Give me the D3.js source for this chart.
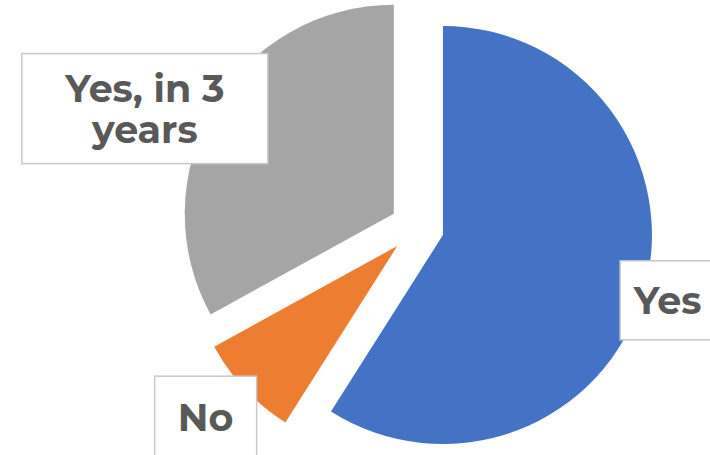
<!DOCTYPE html>
<html>
<head>
<meta charset="utf-8">
<script src="https://cdn.jsdelivr.net/npm/d3@7"></script>
<style>
  body { margin: 0; background: #fff; }
  svg { display: block; }
</style>
</head>
<body>
<div id="chart"></div>
<script>
// slice data
const categories = ["Yes", "No", "Yes, in 3 years"];
const values = [59, 8, 33];
const colors = ["#4472C4", "#ED7D31", "#A5A5A5"];
const labelLines = [["Yes"], ["No"], ["Yes, in 3", "years"]];

// chart size
const width = 710,
  height = 455;
const cx = 417,
  cy = 227.5,
  radius = 209,
  explode = 27;

// label placement (distance from centre, angle nudge in degrees, box size)
const labelLayout = [
  { dist: 261, nudge: 0, w: 95, h: 79 },
  { dist: 284, nudge: 1.3, w: 102, h: 82 },
  { dist: 297, nudge: -7, w: 246, h: 110 },
];

const fontSize = 38,
  lineHeight = 41,
  capHeight = fontSize * 0.71;

let svg = d3
  .select("#chart")
  .append("svg")
  .attr("width", width)
  .attr("height", height);

let pie = d3
  .pie()
  .sort(null)
  .value((d) => d);

let arc = d3.arc().innerRadius(0).outerRadius(radius);

let arcs = pie(values);

// draw the exploded slices
svg
  .append("g")
  .attr("transform", `translate(${cx},${cy})`)
  .selectAll("path")
  .data(arcs)
  .enter()
  .append("path")
  .attr("d", arc)
  .attr("fill", (d, i) => colors[i])
  .attr("transform", (d) => {
    let mid = (d.startAngle + d.endAngle) / 2;
    return `translate(${Math.sin(mid) * explode},${-Math.cos(mid) * explode})`;
  });

// data labels in white boxes
let labels = svg
  .append("g")
  .selectAll("g")
  .data(arcs)
  .enter()
  .append("g")
  .attr("transform", (d, i) => {
    let l = labelLayout[i];
    let a = (d.startAngle + d.endAngle) / 2 + (l.nudge * Math.PI) / 180;
    return `translate(${cx + Math.sin(a) * l.dist},${cy - Math.cos(a) * l.dist})`;
  });

labels
  .append("rect")
  .attr("x", (d, i) => -labelLayout[i].w / 2)
  .attr("y", (d, i) => -labelLayout[i].h / 2)
  .attr("width", (d, i) => labelLayout[i].w)
  .attr("height", (d, i) => labelLayout[i].h)
  .attr("fill", "#fff")
  .attr("stroke", "#C8C8C8")
  .attr("stroke-width", 1.5);

labels.each(function (d, i) {
  let lines = labelLines[i];
  let first = -((lines.length - 1) * lineHeight) / 2 + capHeight / 2;
  d3.select(this)
    .selectAll("text")
    .data(lines)
    .enter()
    .append("text")
    .attr("x", 0)
    .attr("y", (t, j) => first + j * lineHeight)
    .attr("text-anchor", "middle")
    .style("font-family", "Montserrat, 'Open Sans', sans-serif")
    .style("font-weight", 700)
    .style("font-size", fontSize + "px")
    .attr("fill", "#595959")
    .text((t) => t);
});
</script>
</body>
</html>
